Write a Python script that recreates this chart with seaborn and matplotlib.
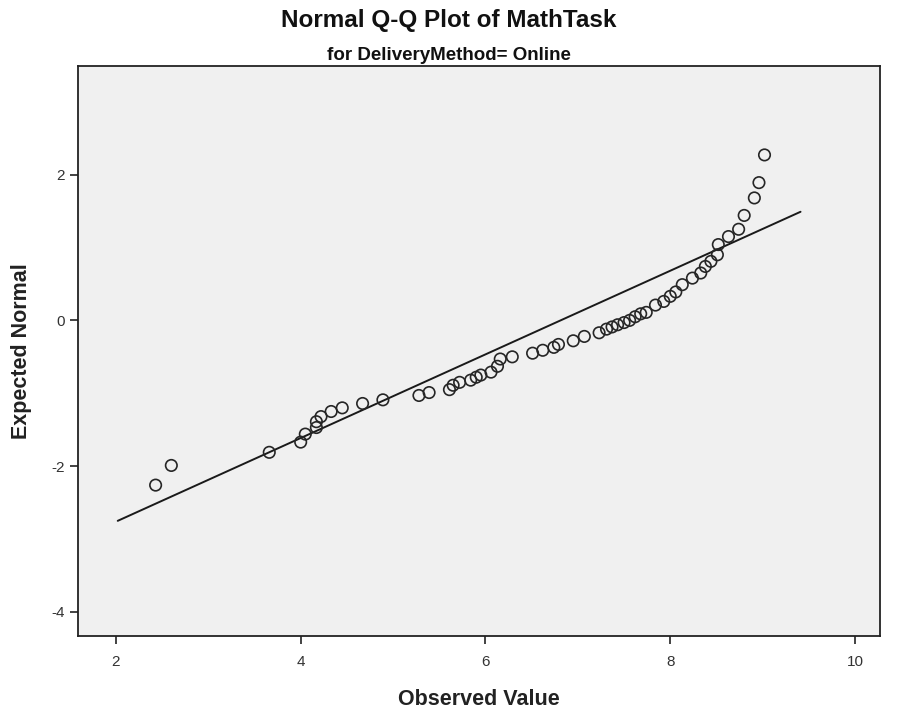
import matplotlib
matplotlib.use("Agg")
import matplotlib.pyplot as plt
import seaborn as sns
import pandas as pd

observed = [2.43, 2.60, 3.66, 4.00, 4.05, 4.17, 4.17, 4.22, 4.33, 4.45,
            4.67, 4.89, 5.28, 5.39, 5.61, 5.65, 5.72, 5.84, 5.90, 5.95,
            6.06, 6.13, 6.16, 6.29, 6.51, 6.62, 6.74, 6.79, 6.95, 7.07,
            7.23, 7.31, 7.37, 7.43, 7.50, 7.56, 7.62, 7.68, 7.74, 7.84,
            7.93, 8.00, 8.06, 8.13, 8.24, 8.33, 8.38, 8.44, 8.51, 8.52,
            8.63, 8.74, 8.80, 8.91, 8.96, 9.02]
expected = [-2.26, -1.99, -1.81, -1.67, -1.56, -1.47, -1.39, -1.32, -1.25, -1.20,
            -1.14, -1.09, -1.03, -0.99, -0.95, -0.89, -0.85, -0.82, -0.78, -0.75,
            -0.71, -0.63, -0.53, -0.50, -0.45, -0.41, -0.37, -0.33, -0.28, -0.22,
            -0.17, -0.12, -0.09, -0.06, -0.03, 0.00, 0.05, 0.09, 0.11, 0.21,
            0.26, 0.33, 0.39, 0.49, 0.58, 0.65, 0.74, 0.81, 0.90, 1.04,
            1.15, 1.25, 1.44, 1.68, 1.89, 2.27]

# Reference line endpoints
line_x = [2.02, 9.41]
line_y = [-2.75, 1.49]

x_ticks = [2, 4, 6, 8, 10]
y_ticks = [-4, -2, 0, 2]
y_tick_labels = ["-4", "-2", "0", "2"]

title = "Normal Q-Q Plot of MathTask"
subtitle = "for DeliveryMethod= Online"
x_label = "Observed Value"
y_label = "Expected Normal"

sns.set_theme(style="white")
fam = ["Liberation Sans Narrow", "Liberation Sans", "DejaVu Sans"]
plt.rcParams["font.family"] = fam

fig = plt.figure(figsize=(8.98, 7.19), dpi=100)
ax = fig.add_axes([78 / 898, 1 - 636 / 719, (880 - 78) / 898, (636 - 66) / 719])
ax.set_facecolor("#F0F0F0")

pts = pd.DataFrame({"Observed": observed, "Expected": expected})
ln = pd.DataFrame({"x": line_x, "y": line_y})

sns.lineplot(data=ln, x="x", y="y", ax=ax, color="#1a1a1a", linewidth=1.4,
             estimator=None, sort=False)
sns.scatterplot(data=pts, x="Observed", y="Expected", ax=ax, s=68,
                facecolors="none", edgecolor="#262626", linewidth=1.2,
                marker="o", zorder=3)

ax.set_xlim(1.59, 10.27)
ax.set_ylim(-4.33, 3.49)
ax.set_xticks(x_ticks)
ax.set_yticks(y_ticks)
ax.set_yticklabels(y_tick_labels)
ax.tick_params(axis="both", direction="out", length=6, width=1.2, colors="#222222",
               labelsize=11, labelcolor="#333333", bottom=True, left=True)
ax.tick_params(axis="x", pad=8)

for s in ax.spines.values():
    s.set_color("#222222")
    s.set_linewidth(1.3)

ax.set_xlabel(x_label, fontsize=15.5, fontweight="bold", color="#222222", labelpad=14)
ax.set_ylabel(y_label, fontsize=15.5, fontweight="bold", color="#222222", labelpad=14)

fig.text(0.5, 1 - 21 / 719, title, ha="center", va="center", fontsize=17.5,
         fontweight="bold", color="#111111")
fig.text(0.5, 1 - 55 / 719, subtitle, ha="center", va="center", fontsize=13.5,
         fontweight="bold", color="#111111")

fig.savefig("out.png", dpi=100, facecolor="white")
